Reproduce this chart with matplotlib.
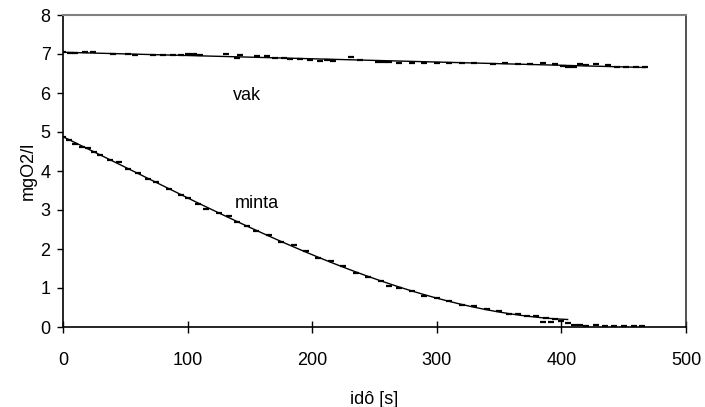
import numpy as np
import matplotlib
matplotlib.use("Agg")
import matplotlib.pyplot as plt

plt.rcParams['font.family'] = ['Liberation Sans', 'DejaVu Sans']

# vak (blank) series
vak_x = [0, 6, 10, 18, 24, 40, 52, 58, 72, 80, 88, 95, 100, 105, 110, 131, 140, 142,
         156, 164, 170, 177, 182, 190, 198, 206, 212, 217, 231, 238, 253, 258, 262,
         270, 280, 290, 300, 310, 320, 330, 345, 355, 365, 375, 385, 395, 401, 405,
         410, 415, 420, 428, 437, 445, 452, 460, 467]
vak_y = [7.04, 7.03, 7.03, 7.04, 7.04, 6.99, 6.99, 6.98, 6.98, 6.98, 6.98, 6.97, 7.00,
         7.01, 6.98, 7.00, 6.91, 6.97, 6.96, 6.95, 6.89, 6.89, 6.86, 6.87, 6.84, 6.83,
         6.84, 6.82, 6.92, 6.85, 6.80, 6.79, 6.80, 6.77, 6.77, 6.77, 6.76, 6.77, 6.76,
         6.76, 6.75, 6.76, 6.75, 6.75, 6.76, 6.75, 6.68, 6.66, 6.67, 6.74, 6.73, 6.75,
         6.72, 6.67, 6.66, 6.66, 6.66]

# minta (sample) series
minta_x = [0, 5, 10, 15, 20, 25, 30, 38, 45, 52, 60, 68, 75, 85, 95, 100, 108, 115,
           125, 133, 140, 148, 155, 165, 175, 185, 195, 205, 215, 225, 235, 245, 255,
           262, 270, 280, 290, 300, 310, 320, 330, 340, 350, 358, 365, 372, 380, 388,
           395, 400]
minta_y = [4.88, 4.80, 4.70, 4.62, 4.60, 4.50, 4.41, 4.27, 4.22, 4.05, 3.95, 3.80,
           3.71, 3.55, 3.38, 3.32, 3.16, 3.02, 2.93, 2.84, 2.68, 2.59, 2.47, 2.35,
           2.19, 2.09, 1.95, 1.78, 1.68, 1.56, 1.38, 1.28, 1.18, 1.05, 1.01, 0.92,
           0.80, 0.75, 0.67, 0.57, 0.53, 0.45, 0.42, 0.34, 0.33, 0.28, 0.27, 0.22,
           0.21, 0.16]
tail_x = [385, 392, 405, 410, 415, 420, 428, 435, 442, 450, 458, 465]
tail_y = [0.14, 0.12, 0.10, 0.06, 0.04, 0.03, 0.05, 0.02, 0.03, 0.02, 0.02, 0.02]

x_ticks = [0, 100, 200, 300, 400, 500]
y_ticks = [0, 1, 2, 3, 4, 5, 6, 7, 8]

FS = 13

fig = plt.figure(figsize=(7.05, 4.07), dpi=100)
ax = fig.add_axes([63/705, 1 - 327/407, 623/705, 312/407])

mk = dict(marker='_', color='black', markersize=5, markeredgewidth=1.6, linestyle='none')
ax.plot(vak_x, vak_y, **mk)
ax.plot(minta_x, minta_y, **mk)
ax.plot(tail_x, tail_y, **mk)

# trendlines
pv = np.polyfit(vak_x, vak_y, 1)
xv = np.linspace(min(vak_x), max(vak_x), 50)
ax.plot(xv, np.polyval(pv, xv), color='black', lw=1)

pm = np.polyfit(minta_x, minta_y, 3)
xm = np.linspace(0, 405, 200)
ax.plot(xm, np.polyval(pm, xm), color='black', lw=1)

ax.text(136, 5.82, 'vak', fontsize=FS, va='baseline', ha='left')
ax.text(138, 3.05, 'minta', fontsize=FS, va='baseline', ha='left')

ax.set_xlim(0, 500)
ax.set_ylim(0, 8)
ax.set_xticks(x_ticks)
ax.set_yticks(y_ticks)
ax.tick_params(axis='x', direction='inout', length=8, width=1, labelsize=FS, pad=14)
ax.tick_params(axis='y', direction='out', length=4, width=1, labelsize=FS, pad=5)
ax.set_xlabel('idô [s]', fontsize=FS, labelpad=16)
fig.text(28/705, 1 - 171/407, 'mgO2/l', fontsize=FS, rotation=90,
         ha='center', va='center')

for s in ['left', 'bottom']:
    ax.spines[s].set_color('black')
    ax.spines[s].set_linewidth(1.2)
ax.spines['top'].set_color('#808080')
ax.spines['top'].set_linewidth(1.5)
ax.spines['right'].set_color('#333333')
ax.spines['right'].set_linewidth(1.2)

fig.savefig('out.png', dpi=100)
